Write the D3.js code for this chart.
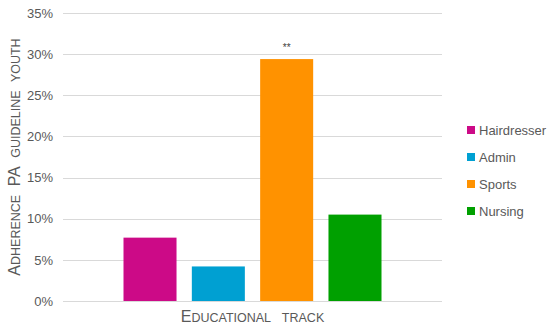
<!DOCTYPE html>
<html>
<head>
<meta charset="utf-8">
<script src="https://cdn.jsdelivr.net/npm/d3@7"></script>
<style>
  body { margin: 0; background: #fff; }
  text { font-family: "Liberation Sans", Arial, sans-serif; }
</style>
</head>
<body>
<div id="chart"></div>
<script>
// data
var category = ["Educational track"];
var series = ["Hairdresser", "Admin", "Sports", "Nursing"];
var values = [0.077, 0.042, 0.294, 0.105];
var colors = ["#cc0a87", "#00a0d2", "#ff9200", "#00a000"];
var yTicks = [0, 0.05, 0.10, 0.15, 0.20, 0.25, 0.30, 0.35];
var marks = ["", "", "**", ""];
var xTitle = "Educational track";
var yTitle = "Adherence PA guideline youth";

// fake small caps: capitals big, lower case letters upper-cased and smaller
var smallCaps = function(sel, text, big, small) {
  var parts = text.match(/[A-Z]+|[^A-Z]+/g);
  parts.forEach(function(p) {
    var isCap = /[A-Z]/.test(p[0]);
    sel.append("tspan")
      .style("font-size", (isCap ? big : small) + "px")
      .text(isCap ? p : p.toUpperCase());
  });
};

var visualize = function() {
  var width = 550, height = 328;
  var plot = { left: 63, right: 442, top: 13, bottom: 301 };

  var svg = d3.select("#chart")
    .append("svg")
    .attr("width", width)
    .attr("height", height);

  var y = d3.scaleLinear()
    .domain([0, 0.35])
    .range([plot.bottom, plot.top]);

  var x0 = d3.scaleBand()
    .domain(category)
    .range([plot.left, plot.right])
    .paddingInner(0)
    .paddingOuter(0.2345);

  var x1 = d3.scaleBand()
    .domain(series)
    .range([0, x0.bandwidth()])
    .paddingInner(0.224)
    .paddingOuter(0);

  // gridlines
  svg.append("g")
    .selectAll("line")
    .data(yTicks)
    .enter()
    .append("line")
    .attr("x1", plot.left)
    .attr("x2", plot.right)
    .attr("y1", function(d) { return Math.round(y(d)) + 0.5; })
    .attr("y2", function(d) { return Math.round(y(d)) + 0.5; })
    .attr("stroke", "#d9d9d9")
    .attr("stroke-width", 1);

  // y axis labels
  var yAxis = d3.axisLeft(y)
    .tickValues(yTicks)
    .tickFormat(d3.format(".0%"))
    .tickSize(0)
    .tickPadding(10);
  var ya = svg.append("g")
    .attr("transform", "translate(" + plot.left + ",0)")
    .call(yAxis);
  ya.select(".domain").remove();
  ya.selectAll("text")
    .attr("fill", "#595959")
    .style("font-size", "13px");

  // bars
  var cat = category[0];
  svg.append("g")
    .selectAll("rect")
    .data(series)
    .enter()
    .append("rect")
    .attr("x", function(d) { return x0(cat) + x1(d); })
    .attr("y", function(d, i) { return y(values[i]); })
    .attr("width", x1.bandwidth())
    .attr("height", function(d, i) { return y(0) - y(values[i]); })
    .attr("fill", function(d, i) { return colors[i]; });

  // significance marks
  svg.append("g")
    .selectAll("text")
    .data(series)
    .enter()
    .append("text")
    .attr("x", function(d) { return x0(cat) + x1(d) + x1.bandwidth() / 2; })
    .attr("y", function(d, i) { return y(values[i]) - 8; })
    .attr("text-anchor", "middle")
    .attr("fill", "#404040")
    .style("font-size", "10px")
    .text(function(d, i) { return marks[i]; });

  // axis titles
  var xt = svg.append("text")
    .attr("x", (plot.left + plot.right) / 2)
    .attr("y", 322)
    .attr("text-anchor", "middle")
    .attr("fill", "#595959")
    .style("word-spacing", "8px");
  smallCaps(xt, xTitle, 16, 12.5);

  var yt = svg.append("text")
    .attr("transform", "translate(20,157) rotate(-90)")
    .attr("text-anchor", "middle")
    .attr("fill", "#595959")
    .style("word-spacing", "5px");
  smallCaps(yt, yTitle, 16, 12.5);

  // legend
  var legend = svg.append("g")
    .selectAll("g")
    .data(series)
    .enter()
    .append("g")
    .attr("transform", function(d, i) { return "translate(467," + (126 + i * 27) + ")"; });
  legend.append("rect")
    .attr("width", 8)
    .attr("height", 8)
    .attr("fill", function(d, i) { return colors[i]; });
  legend.append("text")
    .attr("x", 12)
    .attr("y", 8.5)
    .attr("fill", "#595959")
    .style("font-size", "13px")
    .text(function(d) { return d; });
};

visualize();
</script>
</body>
</html>
